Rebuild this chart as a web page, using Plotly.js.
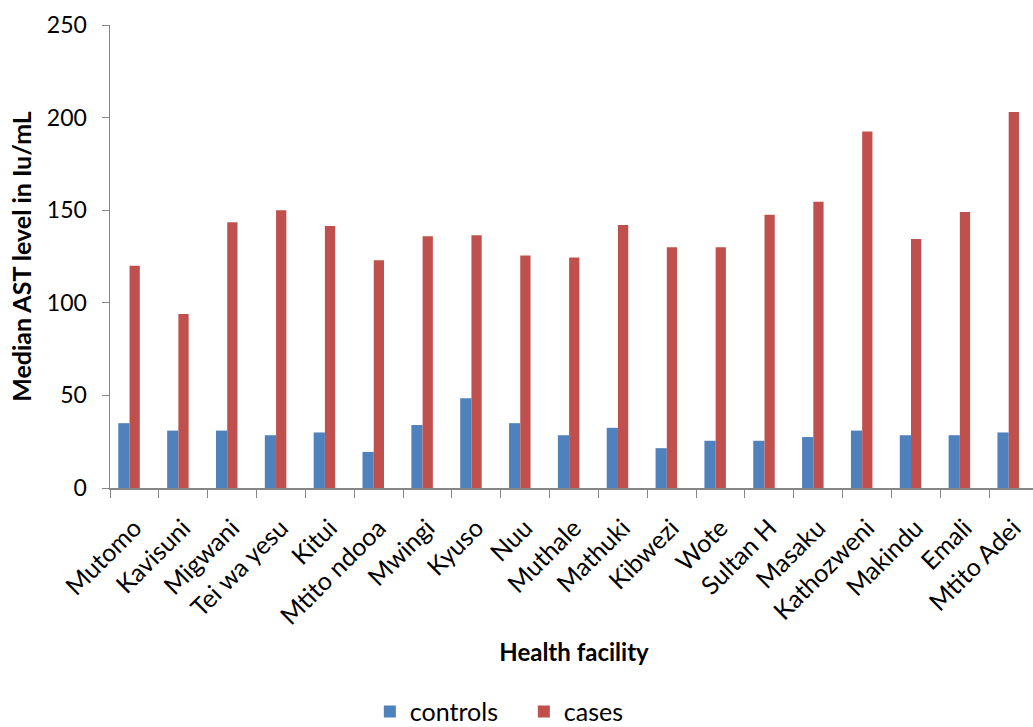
<!DOCTYPE html>
<html>
<head>
<meta charset="utf-8">
<script src="https://cdn.plot.ly/plotly-3.0.1.min.js"></script>
<style>
  html, body { margin: 0; padding: 0; background: #fff; overflow: hidden; }
  #chart { width: 1040px; height: 727px; }
</style>
</head>
<body>
<div id="chart"></div>
<script>
// Median AST level (IU/mL) per health facility
const facilities = [
  "Mutomo", "Kavisuni", "Migwani", "Tei wa yesu", "Kitui", "Mtito ndooa",
  "Mwingi", "Kyuso", "Nuu", "Muthale", "Mathuki", "Kibwezi", "Wote",
  "Sultan H", "Masaku", "Kathozweni", "Makindu", "Emali", "Mtito Adei"
];
const controls = [35, 31, 31, 28.5, 30, 19.5, 34, 48.5, 35, 28.5, 32.5, 21.5, 25.5, 25.5, 27.5, 31, 28.5, 28.5, 30];
const cases = [120, 94, 143.5, 150, 141.5, 123, 136, 136.5, 125.5, 124.5, 142, 130, 130, 147.5, 154.5, 192.5, 134.5, 149, 203];
const yTicks = [0, 50, 100, 150, 200, 250];

const baseFont = "Lato, 'Liberation Sans', sans-serif";

const traces = [
  {
    type: "bar", name: "controls", x: facilities, y: controls,
    marker: { color: "#4F81BD" }, width: 0.23, offset: -0.33
  },
  {
    type: "bar", name: "cases", x: facilities, y: cases,
    marker: { color: "#C0504D" }, width: 0.21, offset: -0.10
  }
];

const layout = {
  width: 1040, height: 727,
  margin: { l: 110, r: 2, t: 25, b: 239, autoexpand: false },
  paper_bgcolor: "#fff", plot_bgcolor: "#fff",
  font: { family: baseFont, color: "#000" },
  showlegend: true,
  legend: {
    orientation: "h", x: 0.28, xanchor: "left",
    yref: "container", y: 0.021, yanchor: "middle",
    font: { size: 25, family: baseFont, color: "#000" }, itemwidth: 30,
    entrywidth: 109, entrywidthmode: "pixels",
    traceorder: "normal"
  },
  xaxis: {
    type: "category", tickangle: -45, tickson: "boundaries", automargin: false,
    ticks: "outside", ticklen: 8, tickcolor: "#868686",
    showline: true, linecolor: "#868686", linewidth: 1.5,
    showgrid: false, zeroline: false, ticklabelstandoff: 14,
    tickfont: { size: 25, family: baseFont, color: "#000" },
    title: { text: "<b>Health facility</b>", font: { size: 24, family: baseFont, color: "#000" }, standoff: 15 }
  },
  yaxis: {
    range: [0, 250], tickvals: yTicks, ticktext: yTicks.map(String), automargin: false,
    ticks: "outside", ticklen: 7, tickcolor: "#868686",
    showline: true, linecolor: "#868686", linewidth: 1.5,
    showgrid: false, zeroline: false, ticklabelstandoff: 10,
    tickfont: { size: 23, family: baseFont, color: "#000" },
    title: { text: "<b>Median AST level in Iu/mL</b>", font: { size: 25, family: baseFont, color: "#000" }, standoff: 8 }
  }
};

Plotly.newPlot("chart", traces, layout, { displayModeBar: false, staticPlot: true });
</script>
</body>
</html>
